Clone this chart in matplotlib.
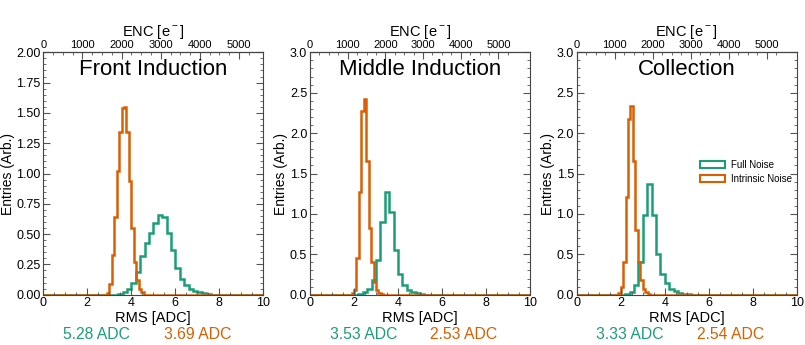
import numpy as np
import matplotlib.pyplot as plt
from matplotlib.ticker import MultipleLocator, FixedLocator
from matplotlib.patches import Patch

plt.rcParams['font.family'] = ['Liberation Sans', 'DejaVu Sans']
plt.rcParams['mathtext.fontset'] = 'custom'
plt.rcParams['mathtext.rm'] = 'Liberation Sans'

green = '#1b9e77'
orange = '#d95f02'

planes = ['Front Induction', 'Middle Induction', 'Collection']
full_means = [5.28, 3.53, 3.33]
intr_means = [3.69, 2.53, 2.54]
y_max = [2.0, 3.0, 3.0]
y_step = [0.25, 0.5, 0.5]
y_fmt = ['%.2f', '%.1f', '%.1f']
enc_per_adc = [562, 584, 579]
enc_ticks = [0, 1000, 2000, 3000, 4000, 5000]

# full noise: 50 bins on [0, 10] ADC, values start at bin index full_start
full_nbins = 50
full_start = [17, 11, 11]
full_front = [0.005, 0.02, 0.05, 0.10, 0.19, 0.32, 0.43, 0.51, 0.59, 0.66, 0.64,
              0.51, 0.37, 0.22, 0.13, 0.08, 0.05, 0.03, 0.02, 0.01, 0.005]
full_middle = [0.01, 0.03, 0.07, 0.18, 0.43, 0.90, 1.27, 1.02, 0.55, 0.26, 0.12,
               0.06, 0.03, 0.015, 0.005]
full_coll = [0.01, 0.03, 0.12, 0.40, 0.99, 1.37, 0.99, 0.50, 0.26, 0.14, 0.07,
             0.04, 0.02, 0.01, 0.005]

# intrinsic noise: 90 bins on [0, 10] ADC
intr_nbins = 90
intr_start = [26, 17, 17]
intr_front = [0.01, 0.09, 0.33, 0.64, 1.02, 1.34, 1.54, 1.55, 1.34, 0.94, 0.55,
              0.27, 0.12, 0.05, 0.02]
intr_middle = [0.02, 0.06, 0.45, 1.27, 2.27, 2.42, 1.66, 0.82, 0.40, 0.16, 0.06,
               0.02, 0.01]
intr_coll = [0.02, 0.09, 0.40, 1.21, 2.17, 2.34, 1.66, 0.80, 0.40, 0.18, 0.07,
             0.03, 0.01]

full_vals = [full_front, full_middle, full_coll]
intr_vals = [intr_front, intr_middle, intr_coll]


def fill_hist(vals, start, nbins):
    h = np.zeros(nbins)
    h[start:start + len(vals)] = vals
    return h


fig = plt.figure(figsize=(8.05, 3.45), dpi=100)
lefts = [0.0538, 0.3851, 0.7164]

for i in range(3):
    ax = fig.add_axes([lefts[i], 0.1458, 0.2733, 0.7026])

    full_edges = np.linspace(0, 10, full_nbins + 1)
    intr_edges = np.linspace(0, 10, intr_nbins + 1)
    ax.stairs(fill_hist(full_vals[i], full_start[i], full_nbins), full_edges,
              color=green, linewidth=1.8)
    ax.stairs(fill_hist(intr_vals[i], intr_start[i], intr_nbins), intr_edges,
              color=orange, linewidth=1.8)

    ax.set_xlim(0, 10)
    ax.set_ylim(0, y_max[i])
    ax.xaxis.set_major_locator(MultipleLocator(2))
    ax.xaxis.set_minor_locator(MultipleLocator(0.5))
    ax.yaxis.set_major_locator(MultipleLocator(y_step[i]))
    ax.yaxis.set_minor_locator(MultipleLocator(y_step[i] / 5))
    ax.yaxis.set_major_formatter(plt.FormatStrFormatter(y_fmt[i]))
    ax.tick_params(which='both', direction='in', top=False, right=True,
                   labelsize=9, color='#555555', pad=2)
    ax.tick_params(which='major', length=5)
    ax.tick_params(which='minor', length=2.5)
    for s in ax.spines.values():
        s.set_color('#444444')

    ax.set_xlabel('RMS [ADC]', fontsize=10.5, labelpad=1)
    ax.set_ylabel('Entries (Arb.)', fontsize=10, labelpad=1)
    ax.text(0.5, 0.928, planes[i], transform=ax.transAxes, ha='center',
            va='center', fontsize=16)

    g = enc_per_adc[i]
    sec = ax.secondary_xaxis('top', functions=(lambda x, g=g: x * g,
                                               lambda e, g=g: e / g))
    sec.xaxis.set_major_locator(FixedLocator(enc_ticks))
    sec.xaxis.set_minor_locator(FixedLocator(np.arange(250, 5500, 250)))
    sec.tick_params(which='both', direction='in', labelsize=8,
                    color='#555555', pad=1.5)
    sec.tick_params(which='major', length=5)
    sec.tick_params(which='minor', length=2.5)
    sec.set_xlabel('ENC [e$^-$]', fontsize=10.5, labelpad=3)

    ax.text(0.243, -0.166, '%.2f ADC' % full_means[i], transform=ax.transAxes,
            ha='center', va='center', fontsize=11.3, color=green)
    ax.text(0.70, -0.166, '%.2f ADC' % intr_means[i], transform=ax.transAxes,
            ha='center', va='center', fontsize=11.3, color=orange)

    if i == 2:
        handles = [Patch(facecolor='none', edgecolor=green, linewidth=1.5),
                   Patch(facecolor='none', edgecolor=orange, linewidth=1.5)]
        ax.legend(handles, ['Full Noise', 'Intrinsic Noise'], loc='upper left',
                  bbox_to_anchor=(0.53, 0.585), frameon=False, fontsize=7,
                  handlelength=2.6, handleheight=0.8, handletextpad=0.6,
                  labelspacing=0.45, borderpad=0.2)

fig.savefig('out.png', dpi=100)
